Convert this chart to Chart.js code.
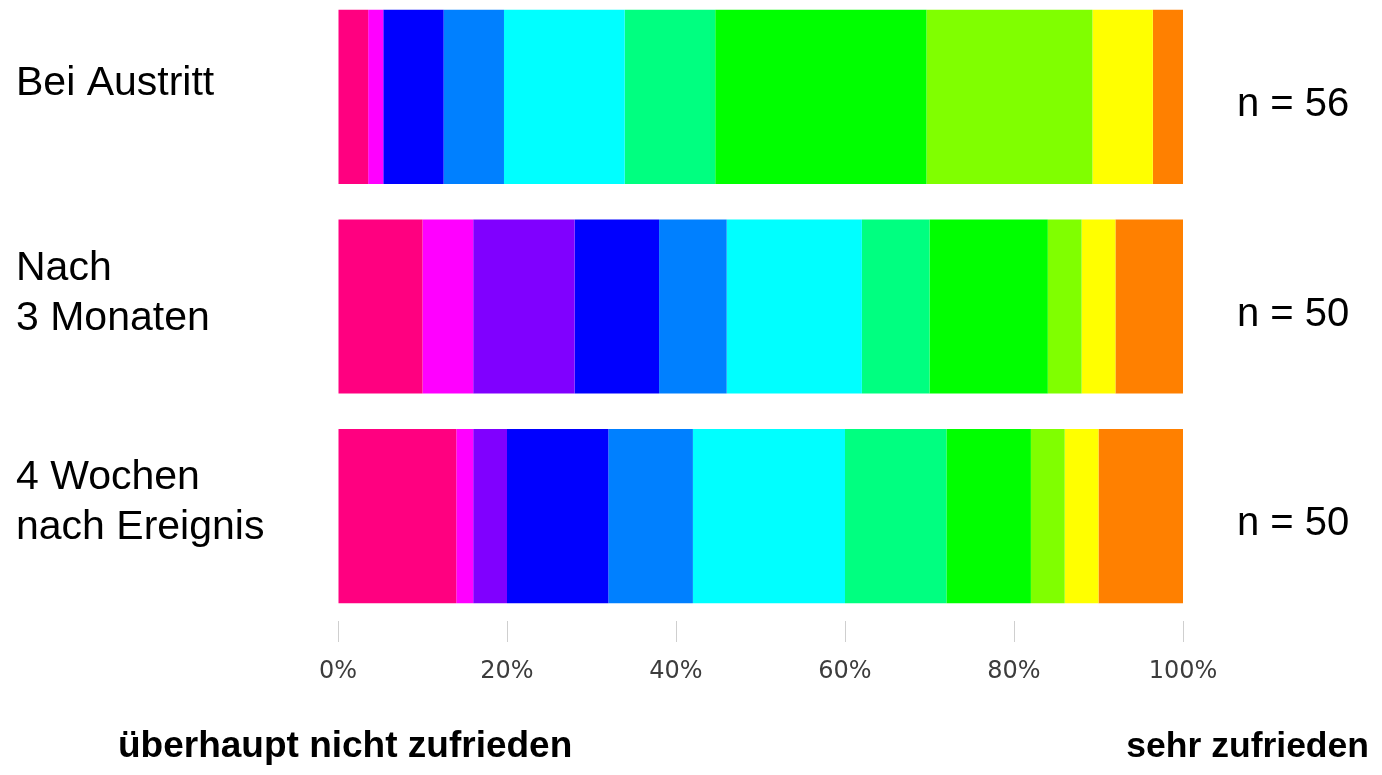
<!DOCTYPE html>
<html lang="de">
<head>
<meta charset="utf-8">
<title>Zufriedenheit</title>
<script src="https://cdn.jsdelivr.net/npm/chart.js@4/dist/chart.umd.min.js"></script>
<style>
  html, body { margin: 0; padding: 0; background: #fff; overflow: hidden; }
  body { width: 1382px; height: 775px; position: relative; }
  #wrap { position: absolute; left: 0; top: -8px; width: 1382px; height: 783px; }
  .end { position: absolute; font-family: 'Liberation Sans', Arial, sans-serif; font-weight: bold; line-height: 36px; color: #000; white-space: nowrap; }
  #lo { left: 118px; top: 727px; font-size: 37px; }
  #hi { right: 13px; top: 727px; font-size: 35.5px; }
</style>
</head>
<body>
<div id="wrap"><canvas id="c"></canvas></div>
<div class="end" id="lo">überhaupt nicht zufrieden</div>
<div class="end" id="hi">sehr zufrieden</div>
<script>
// Rows (top to bottom)
const categories = [['Bei Austritt'], ['Nach', '3 Monaten'], ['4 Wochen', 'nach Ereignis']];
const sampleSizes = [56, 50, 50];
const sampleLabels = ['n = 56', 'n = 50', 'n = 50'];
// Response levels 0 (überhaupt nicht zufrieden) .. 10 (sehr zufrieden)
const levels = ['0', '1', '2', '3', '4', '5', '6', '7', '8', '9', '10'];
// Counts per level, one value per row
const level0  = [2, 5, 7];
const level1  = [1, 3, 1];
const level2  = [0, 6, 2];
const level3  = [4, 5, 6];
const level4  = [4, 4, 5];
const level5  = [8, 8, 9];
const level6  = [6, 4, 6];
const level7  = [14, 7, 5];
const level8  = [11, 2, 2];
const level9  = [4, 2, 2];
const level10 = [2, 4, 5];
const xTicks = [0, 20, 40, 60, 80, 100];

const counts = [level0, level1, level2, level3, level4, level5, level6, level7, level8, level9, level10];
const colors = ['#ff0080', '#ff00ff', '#8000ff', '#0000ff', '#0080ff', '#00ffff',
                '#00ff80', '#00ff00', '#80ff00', '#ffff00', '#ff8000'];

const datasets = levels.map((lv, i) => ({
  label: lv,
  data: counts[i].map((c, r) => c / sampleSizes[r] * 100),
  backgroundColor: colors[i],
  borderWidth: 0,
  barPercentage: 1,
  categoryPercentage: 0.8306
}));

new Chart(document.getElementById('c'), {
  type: 'bar',
  data: { labels: categories, datasets },
  options: {
    indexAxis: 'y',
    responsive: true,
    maintainAspectRatio: false,
    animation: false,
    events: [],
    layout: { padding: { left: 16, right: 0, top: 0, bottom: 94 } },
    plugins: { legend: { display: false }, tooltip: { enabled: false } },
    scales: {
      x: {
        type: 'linear',
        stacked: true,
        min: 0, max: 100,
        afterBuildTicks: s => { s.ticks = xTicks.map(v => ({ value: v })); },
        afterFit: s => { s.height = 60; s.paddingLeft = 0; s.paddingRight = 0; },
        grid: { display: true, drawOnChartArea: false, drawTicks: true, tickLength: 21, color: '#cfcfcf', lineWidth: 1 },
        border: { display: false },
        ticks: {
          padding: 15,
          color: '#3c3c3c',
          font: { family: "'DejaVu Sans', sans-serif", size: 24 },
          callback: v => v + '%'
        }
      },
      y: {
        type: 'category',
        stacked: true,
        offset: true,
        afterFit: s => { s.width = 322; s.paddingTop = 0; s.paddingBottom = 0; },
        grid: { display: false, drawTicks: false },
        border: { display: false },
        ticks: {
          crossAlign: 'far',
          labelOffset: -13,
          padding: 0,
          color: '#000',
          font: { family: "'Liberation Sans', Arial, sans-serif", size: 41, lineHeight: 1.22 }
        }
      },
      y2: {
        type: 'category',
        axis: 'y',
        position: 'right',
        labels: sampleLabels,
        offset: true,
        afterFit: s => { s.width = 199; s.paddingTop = 0; s.paddingBottom = 0; },
        grid: { display: false, drawTicks: false },
        border: { display: false },
        ticks: {
          crossAlign: 'near',
          padding: 54,
          labelOffset: 8,
          color: '#000',
          font: { family: "'Liberation Sans', Arial, sans-serif", size: 40 }
        }
      }
    }
  }
});
</script>
</body>
</html>
